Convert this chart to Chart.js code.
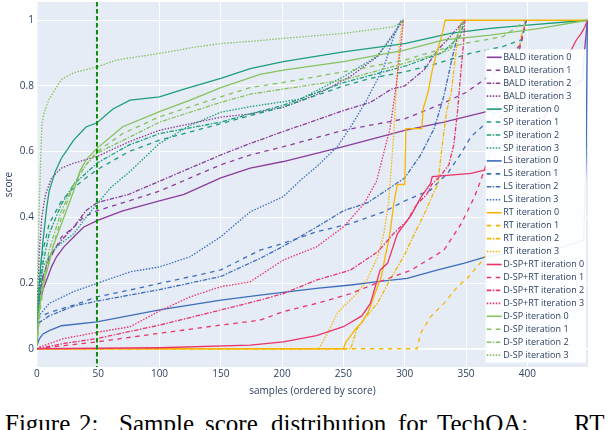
<!DOCTYPE html>
<html>
<head>
<meta charset="utf-8">
<script src="https://cdn.jsdelivr.net/npm/chart.js@4.4.1/dist/chart.umd.min.js"></script>
<style>
  html, body { margin: 0; padding: 0; background: #fff; overflow: hidden; }
  #wrap { position: absolute; left: 0; top: 0; width: 608px; height: 397px; }
  #caption {
    position: absolute; left: 0; top: 411px; width: 608px; height: 25px;
    font-family: "Liberation Serif", serif; font-size: 25px; line-height: 25px;
    color: #000; white-space: nowrap;
  }
  #caption span { position: absolute; top: 0; }
</style>
</head>
<body>
<div id="wrap"><canvas id="scoreChart"></canvas></div>
<div id="caption"><span style="left:5px">Figure</span><span style="left:79px">2:</span><span style="left:119px">Sample</span><span style="left:205px">score</span><span style="left:271px">distribution</span><span style="left:398px">for</span><span style="left:437px">TechQA:</span><span style="left:574px">RT</span></div>
<script>
// [sample index, score]
const baldIter0 = [[0,0.10],[1,0.13],[2.5,0.14],[5,0.18],[8,0.21],[12,0.25],[16,0.28],[22,0.31],[30,0.34],[38,0.37],[49,0.39],[70,0.42],[100,0.45],[120,0.47],[150,0.52],[174,0.55],[201,0.57],[250,0.615],[300,0.665],[332,0.69],[370,0.725],[400,0.75],[430,0.78],[445,0.82],[447,0.92],[449,1]];
const baldIter1 = [[0,0.10],[2,0.17],[5,0.22],[10,0.27],[20,0.34],[30,0.37],[38,0.40],[49,0.42],[75,0.45],[100,0.48],[125,0.52],[150,0.56],[174,0.59],[201,0.615],[250,0.665],[300,0.70],[330,0.745],[350,0.78],[365,0.82],[380,0.86],[395,0.93],[399,1]];
const baldIter2 = [[0,0.08],[2,0.15],[5,0.22],[10,0.28],[20,0.33],[30,0.37],[40,0.42],[49,0.445],[75,0.47],[100,0.51],[125,0.55],[150,0.59],[174,0.625],[200,0.66],[250,0.725],[272,0.75],[289,0.79],[300,0.80],[316,0.85],[327,0.91],[337,0.95],[349,1]];
const baldIter3 = [[0,0.10],[1,0.20],[2,0.30],[4,0.40],[7,0.47],[12,0.52],[20,0.55],[30,0.565],[49,0.585],[75,0.63],[100,0.665],[150,0.705],[174,0.715],[201,0.735],[229,0.775],[256,0.83],[278,0.89],[291,0.96],[299,1]];

const spIter0 = [[0,0.02],[1,0.15],[3,0.25],[5,0.33],[8,0.43],[10,0.48],[15,0.54],[20,0.58],[30,0.635],[40,0.675],[49,0.688],[62,0.73],[76,0.757],[100,0.767],[120,0.79],[150,0.823],[174,0.853],[201,0.874],[250,0.904],[300,0.929],[337,0.96],[370,0.975],[400,0.985],[449,1]];
const spIter1 = [[0,0.01],[2,0.2],[5,0.3],[10,0.38],[20,0.45],[30,0.49],[40,0.52],[49,0.545],[75,0.6],[100,0.635],[150,0.685],[174,0.71],[200,0.735],[250,0.8],[272,0.823],[300,0.843],[327,0.869],[354,0.9],[380,0.92],[395,0.94],[399,1]];
const spIter2 = [[0,0.01],[2,0.18],[5,0.26],[10,0.35],[20,0.44],[30,0.5],[49,0.565],[75,0.62],[100,0.655],[150,0.69],[174,0.715],[200,0.74],[250,0.81],[300,0.86],[330,0.9],[345,0.95],[349,1]];
const spIter3 = [[0,0.02],[2,0.15],[5,0.25],[10,0.28],[16,0.31],[30,0.35],[40,0.4],[49,0.44],[60,0.49],[76,0.54],[100,0.625],[125,0.68],[150,0.72],[174,0.737],[215,0.76],[250,0.828],[277,0.889],[290,0.95],[296,0.99],[299,1]];

const lsIter0 = [[0,0.01],[2,0.03],[5,0.045],[10,0.055],[20,0.07],[49,0.082],[100,0.118],[150,0.148],[182,0.163],[228,0.184],[256,0.194],[278,0.204],[302,0.214],[327,0.24],[348,0.26],[366,0.28],[400,0.3],[430,0.31],[446,0.33],[448,0.6],[449,1]];
const lsIter1 = [[0,0.09],[2.5,0.097],[10,0.11],[30,0.133],[49,0.158],[76,0.179],[100,0.199],[125,0.219],[150,0.24],[182,0.3],[201,0.321],[228,0.356],[256,0.381],[283,0.417],[300,0.45],[321,0.483],[335,0.534],[346,0.595],[354,0.645],[370,0.7],[385,0.8],[395,0.93],[399,1]];
const lsIter2 = [[0,0.05],[2,0.08],[10,0.1],[30,0.13],[49,0.145],[100,0.18],[150,0.22],[182,0.275],[200,0.31],[228,0.37],[250,0.42],[270,0.445],[288,0.49],[300,0.52],[313,0.59],[324,0.67],[332,0.77],[339,0.89],[345,0.98],[349,1]];
const lsIter3 = [[0,0.08],[1,0.097],[10,0.138],[30,0.174],[49,0.199],[76,0.234],[100,0.249],[125,0.28],[150,0.341],[174,0.417],[201,0.463],[215,0.513],[228,0.554],[245,0.615],[256,0.676],[269,0.757],[283,0.858],[291,0.95],[297,1],[299,1]];

const rtIter0 = [[0,0],[250,0],[252,0.02],[256,0.04],[260,0.06],[265,0.08],[270,0.11],[274,0.15],[278,0.19],[281,0.22],[284,0.28],[287,0.33],[289,0.38],[291,0.44],[294,0.5],[300,0.5],[301,0.67],[314,0.67],[315,0.73],[319,0.78],[322,0.84],[326,0.9],[330,0.95],[333,1],[449,1]];
const rtIter1 = [[0,0],[310,0],[313,0.047],[321,0.097],[332,0.138],[343,0.189],[351,0.214],[359,0.25],[366,0.28],[375,0.35],[382,0.5],[387,0.7],[391,0.85],[395,0.95],[399,1]];
const rtIter2 = [[0,0],[256,0],[261,0.06],[269,0.1],[278,0.14],[288,0.21],[299,0.28],[308,0.35],[316,0.41],[323,0.47],[327,0.5],[330,0.6],[334,0.72],[338,0.78],[341,0.88],[344,0.96],[346,1],[349,1]];
const rtIter3 = [[0,0],[230,0],[237,0.047],[245,0.108],[250,0.128],[261,0.168],[269,0.209],[278,0.28],[283,0.35],[287,0.45],[289,0.55],[291,0.65],[293,0.78],[295,0.9],[297,0.97],[299,1]];

const dsprtIter0 = [[0,0],[100,0.003],[174,0.011],[201,0.021],[228,0.04],[250,0.067],[265,0.1],[272,0.138],[280,0.24],[286,0.26],[294,0.35],[305,0.405],[313,0.46],[321,0.503],[322.5,0.524],[354,0.534],[365,0.544],[380,0.56],[400,0.6],[420,0.75],[430,0.86],[436,0.911],[440,0.94],[444,0.96],[447,0.98],[449,1]];
const dsprtIter1 = [[0,0],[49,0.021],[100,0.047],[150,0.072],[182,0.087],[201,0.113],[228,0.138],[256,0.168],[283,0.209],[305,0.239],[332,0.3],[346,0.38],[357,0.463],[362,0.513],[370,0.6],[380,0.72],[392,0.89],[399,1]];
const dsprtIter2 = [[0,0],[22,0.016],[49,0.031],[100,0.072],[150,0.118],[182,0.148],[201,0.168],[228,0.209],[256,0.24],[278,0.295],[291,0.351],[302,0.39],[310,0.44],[318,0.47],[322,0.5],[330,0.53],[336,0.56],[340,0.62],[343,0.72],[346,0.85],[348,0.93],[349,1]];
const dsprtIter3 = [[0,0],[2.5,0.006],[22,0.031],[49,0.05],[76,0.067],[100,0.115],[125,0.158],[150,0.189],[174,0.204],[201,0.27],[228,0.31],[250,0.371],[267,0.442],[277,0.51],[288,0.67],[293,0.8],[297,0.93],[299,1]];

const dspIter0 = [[0,0.01],[2,0.12],[5,0.2],[10,0.26],[13,0.31],[20,0.38],[25,0.43],[30,0.48],[35,0.54],[40,0.575],[49,0.61],[70,0.676],[100,0.722],[125,0.757],[150,0.795],[182,0.835],[201,0.848],[250,0.874],[300,0.909],[332,0.94],[370,0.955],[410,0.975],[449,1]];
const dspIter1 = [[0,0.01],[2,0.1],[5,0.18],[10,0.27],[20,0.4],[30,0.5],[40,0.56],[49,0.6],[70,0.655],[100,0.706],[150,0.767],[174,0.795],[200,0.81],[250,0.843],[300,0.879],[327,0.909],[350,0.93],[380,0.95],[399,1]];
const dspIter2 = [[0,0.01],[2,0.12],[5,0.2],[10,0.3],[20,0.42],[30,0.5],[40,0.56],[49,0.595],[100,0.69],[150,0.75],[174,0.775],[200,0.79],[250,0.818],[300,0.869],[337,0.91],[349,1]];
const dspIter3 = [[0,0.03],[1,0.3],[2,0.45],[4,0.68],[6,0.72],[10,0.76],[15,0.79],[20,0.82],[30,0.84],[49,0.858],[65,0.879],[100,0.899],[130,0.919],[150,0.929],[182,0.938],[201,0.945],[250,0.96],[291,0.98],[299,1]];

const methods = ['BALD', 'SP', 'LS', 'RT', 'D-SP+RT', 'D-SP'];
const methodColors = ['#8a3d9b', '#1c9e77', '#3d6dbb', '#f7b500', '#ea3468', '#86c25e'];
const iterations = [0, 1, 2, 3];
const seriesByMethod = [
  [baldIter0, baldIter1, baldIter2, baldIter3],
  [spIter0, spIter1, spIter2, spIter3],
  [lsIter0, lsIter1, lsIter2, lsIter3],
  [rtIter0, rtIter1, rtIter2, rtIter3],
  [dsprtIter0, dsprtIter1, dsprtIter2, dsprtIter3],
  [dspIter0, dspIter1, dspIter2, dspIter3]
];
const cutoffSample = 49; // the 50th sample, green marker line
const xTickValues = [0, 50, 100, 150, 200, 250, 300, 350, 400];
const yTickValues = [0, 0.2, 0.4, 0.6, 0.8, 1];

// iteration -> dash style (solid, dash, dashdot, dot)
const iterationDashes = [[], [4.5, 4.5], [4.5, 1.5, 1.5, 1.5], [1.5, 1.5]];

const textColor = '#2a3f5f';
const axisFont = { family: 'Open Sans', size: 10 };

const datasets = [];
methods.forEach((name, m) => {
  iterations.forEach((it) => {
    datasets.push({
      label: `${name} iteration ${it}`,
      data: seriesByMethod[m][it].map(p => ({ x: p[0], y: p[1] })),
      borderColor: methodColors[m],
      borderWidth: 1.3,
      borderDash: iterationDashes[it],
      pointRadius: 0,
      tension: 0,
      fill: false,
      order: -datasets.length
    });
  });
});

const overlay = {
  id: 'overlay',
  afterDatasetsDraw(chart) {
    const { ctx, chartArea, scales } = chart;
    // vertical cutoff line
    const xPix = scales.x.getPixelForValue(cutoffSample);
    ctx.save();
    ctx.strokeStyle = '#0a8f0a';
    ctx.lineWidth = 2;
    ctx.setLineDash([4.5, 2.5]);
    ctx.beginPath();
    ctx.moveTo(xPix, chartArea.top);
    ctx.lineTo(xPix, chartArea.bottom);
    ctx.stroke();
    ctx.restore();

    // legend box
    const rowH = 12.95;
    const boxW = 100.5;
    const boxH = chart.data.datasets.length * rowH + 2.6;
    const left = chartArea.right - boxW - 2;
    const top = chartArea.top + 47.3;
    ctx.save();
    ctx.fillStyle = 'rgba(255,255,255,0.92)';
    ctx.fillRect(left, top, boxW, boxH);
    ctx.font = '9px "Open Sans"';
    ctx.textBaseline = 'middle';
    chart.data.datasets.forEach((ds, i) => {
      const y = top + 8 + i * rowH;
      ctx.strokeStyle = ds.borderColor;
      ctx.lineWidth = 1.6;
      ctx.setLineDash(ds.borderDash);
      ctx.beginPath();
      ctx.moveTo(left + 1.2, y);
      ctx.lineTo(left + 16.2, y);
      ctx.stroke();
      ctx.fillStyle = textColor;
      ctx.fillText(ds.label, left + 17.8, y);
    });
    ctx.restore();
  }
};

new Chart(document.getElementById('scoreChart'), {
  type: 'line',
  data: { datasets: datasets },
  options: {
    responsive: true,
    maintainAspectRatio: false,
    animation: false,
    layout: { padding: { left: 0, right: 20, top: 2, bottom: 0 } },
    plugins: {
      legend: { display: false },
      tooltip: { enabled: false }
    },
    scales: {
      x: {
        type: 'linear',
        min: 0,
        max: 449.5,
        afterBuildTicks(scale) { scale.ticks = xTickValues.map(v => ({ value: v })); },
        afterFit(scale) {
          scale.height = 30;
          scale.paddingLeft = 0;
          scale.paddingRight = 0;
        },
        border: { display: false },
        grid: {
          color: '#ffffff',
          lineWidth: (c) => (c.tick && c.tick.value === 0 ? 1.5 : 1),
          drawTicks: false
        },
        ticks: {
          maxRotation: 0,
          autoSkip: false,
          color: textColor,
          font: axisFont,
          padding: 1
        },
        title: {
          display: true,
          text: 'samples (ordered by score)',
          color: textColor,
          font: axisFont,
          padding: { top: 2, bottom: 0 }
        }
      },
      y: {
        min: -0.0556,
        max: 1.0556,
        afterBuildTicks(scale) { scale.ticks = yTickValues.map(v => ({ value: v })); },
        afterFit(scale) {
          scale.width = 36.9;
          scale.paddingTop = 0;
          scale.paddingBottom = 0;
        },
        border: { display: false },
        grid: {
          color: '#ffffff',
          lineWidth: (c) => (c.tick && c.tick.value === 0 ? 1.8 : 1),
          drawTicks: false
        },
        ticks: {
          autoSkip: false,
          color: textColor,
          font: axisFont,
          padding: 3,
          callback: (v) => String(Math.round(v * 10) / 10)
        },
        title: {
          display: true,
          text: 'score',
          color: textColor,
          font: axisFont,
          padding: { top: 3, bottom: 2 }
        }
      }
    }
  },
  plugins: [overlay, {
    id: 'plotBg',
    beforeDraw(chart) {
      const { ctx, chartArea } = chart;
      ctx.save();
      ctx.fillStyle = '#e5ecf6';
      ctx.fillRect(chartArea.left, chartArea.top, chartArea.right - chartArea.left, chartArea.bottom - chartArea.top);
      ctx.restore();
    }
  }]
});
</script>
</body>
</html>
